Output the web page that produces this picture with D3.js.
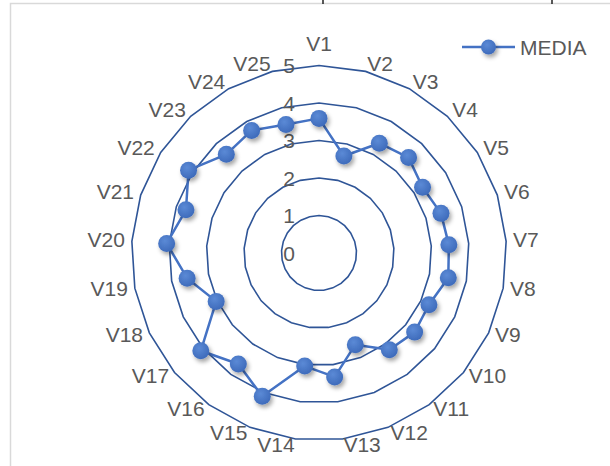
<!DOCTYPE html>
<html>
<head>
<meta charset="utf-8">
<script src="https://cdn.jsdelivr.net/npm/d3@7"></script>
<style>
  html, body { margin: 0; padding: 0; background: #fff; }
  svg { display: block; }
  text { font-family: "Liberation Sans", Arial, sans-serif; fill: #595959; }
</style>
</head>
<body>
<svg id="chart" width="610" height="466"></svg>
<script>
// Radar chart: average score per item V1..V25
const categories = ["V1","V2","V3","V4","V5","V6","V7","V8","V9","V10","V11","V12","V13",
                    "V14","V15","V16","V17","V18","V19","V20","V21","V22","V23","V24","V25"];
const seriesName = "MEDIA";
const mediaValues = [3.59, 2.67, 3.34, 3.49, 3.27, 3.42, 3.47, 3.51, 3.24, 3.31, 3.19, 2.63, 3.33,
                     3.04, 4.11, 3.66, 4.09, 3.03, 3.58, 4.07, 3.73, 4.12, 3.61, 3.73, 3.54];
const tickValues = [0, 1, 2, 3, 4, 5];

const W = 610, H = 466;
const cx = 319, cy = 253, R = 187.5;
const svg = d3.select("#chart");

// chart area frame and cell residue above it
svg.append("path")
  .attr("d", `M10.5,${H} L10.5,3.5 L${W},3.5`)
  .attr("fill", "none").attr("stroke", "#d9d9d9").attr("stroke-width", 1.5);
svg.append("path").attr("d", "M323,0 L323,4").attr("stroke", "#222").attr("stroke-width", 1.5);
svg.append("path").attr("d", "M552,0 L552,4").attr("stroke", "#222").attr("stroke-width", 1.5);

const defs = svg.append("defs");
const grad = defs.append("radialGradient").attr("id", "dotFill")
  .attr("cx", "40%").attr("cy", "35%").attr("r", "65%");
grad.append("stop").attr("offset", "0%").attr("stop-color", "#5b8ad6");
grad.append("stop").attr("offset", "100%").attr("stop-color", "#3e6bbb");
const shadow = defs.append("filter").attr("id", "dotShadow")
  .attr("x", "-50%").attr("y", "-50%").attr("width", "220%").attr("height", "220%");
shadow.append("feDropShadow").attr("dx", 2).attr("dy", 3).attr("stdDeviation", 2)
  .attr("flood-color", "#000").attr("flood-opacity", 0.35);

const r = d3.scaleLinear().domain([0, 5]).range([0, R]);
const angle = d3.scalePoint().domain(categories).range([0, 2 * Math.PI * (1 - 1 / categories.length)]);

const pt = (cat, v) => {
  const a = angle(cat);
  return [cx + r(v) * Math.sin(a), cy - r(v) * Math.cos(a)];
};

const g = svg.append("g");

// polygonal grid rings
const ringLine = d3.line().curve(d3.curveLinearClosed);
g.selectAll("path.ring")
  .data(tickValues.filter(t => t > 0))
  .join("path")
  .attr("class", "ring")
  .attr("d", t => ringLine(categories.map(c => pt(c, t))))
  .attr("fill", "none")
  .attr("stroke", "#2F5597")
  .attr("stroke-width", 1.6);

// value labels along the first spoke
g.selectAll("text.tick")
  .data(tickValues)
  .join("text")
  .attr("class", "tick")
  .attr("x", cx - 24)
  .attr("y", t => cy - r(t))
  .attr("dy", "0.36em")
  .attr("text-anchor", "end")
  .style("font-size", "21px")
  .text(t => t);

// category labels around the outer ring
g.selectAll("text.cat")
  .data(categories)
  .join("text")
  .attr("class", "cat")
  .each(function (c) {
    const a = angle(c);
    const dx = Math.sin(a), dy = -Math.cos(a);
    const px = cx + (R + 7) * dx, py = cy + (R + 7) * dy;
    const el = d3.select(this);
    let anchor = "middle", yy = py - 1.5;
    if (dx > 0.05) anchor = "start";
    else if (dx < -0.05) anchor = "end";
    else yy = py + dy * 15;
    el.attr("x", px).attr("y", yy).attr("dy", "0.36em")
      .attr("text-anchor", anchor).style("font-size", "21px").text(c);
  });

// data series
const pts = categories.map((c, i) => pt(c, mediaValues[i]));
g.append("path")
  .attr("d", ringLine(pts))
  .attr("fill", "none")
  .attr("stroke", "#4472C4")
  .attr("stroke-width", 2.5)
  .attr("stroke-linejoin", "round");

g.selectAll("circle.dot")
  .data(pts)
  .join("circle")
  .attr("class", "dot")
  .attr("cx", d => d[0]).attr("cy", d => d[1])
  .attr("r", 8.5)
  .attr("fill", "url(#dotFill)")
  .attr("filter", "url(#dotShadow)");

// legend
const lg = svg.append("g");
lg.append("line").attr("x1", 462).attr("x2", 515).attr("y1", 47).attr("y2", 47)
  .attr("stroke", "#4472C4").attr("stroke-width", 2.5);
lg.append("circle").attr("cx", 488.5).attr("cy", 47).attr("r", 7.5)
  .attr("fill", "url(#dotFill)").attr("filter", "url(#dotShadow)");
lg.append("text").attr("x", 520).attr("y", 47).attr("dy", "0.36em")
  .style("font-size", "21px").text(seriesName);
</script>
</body>
</html>
